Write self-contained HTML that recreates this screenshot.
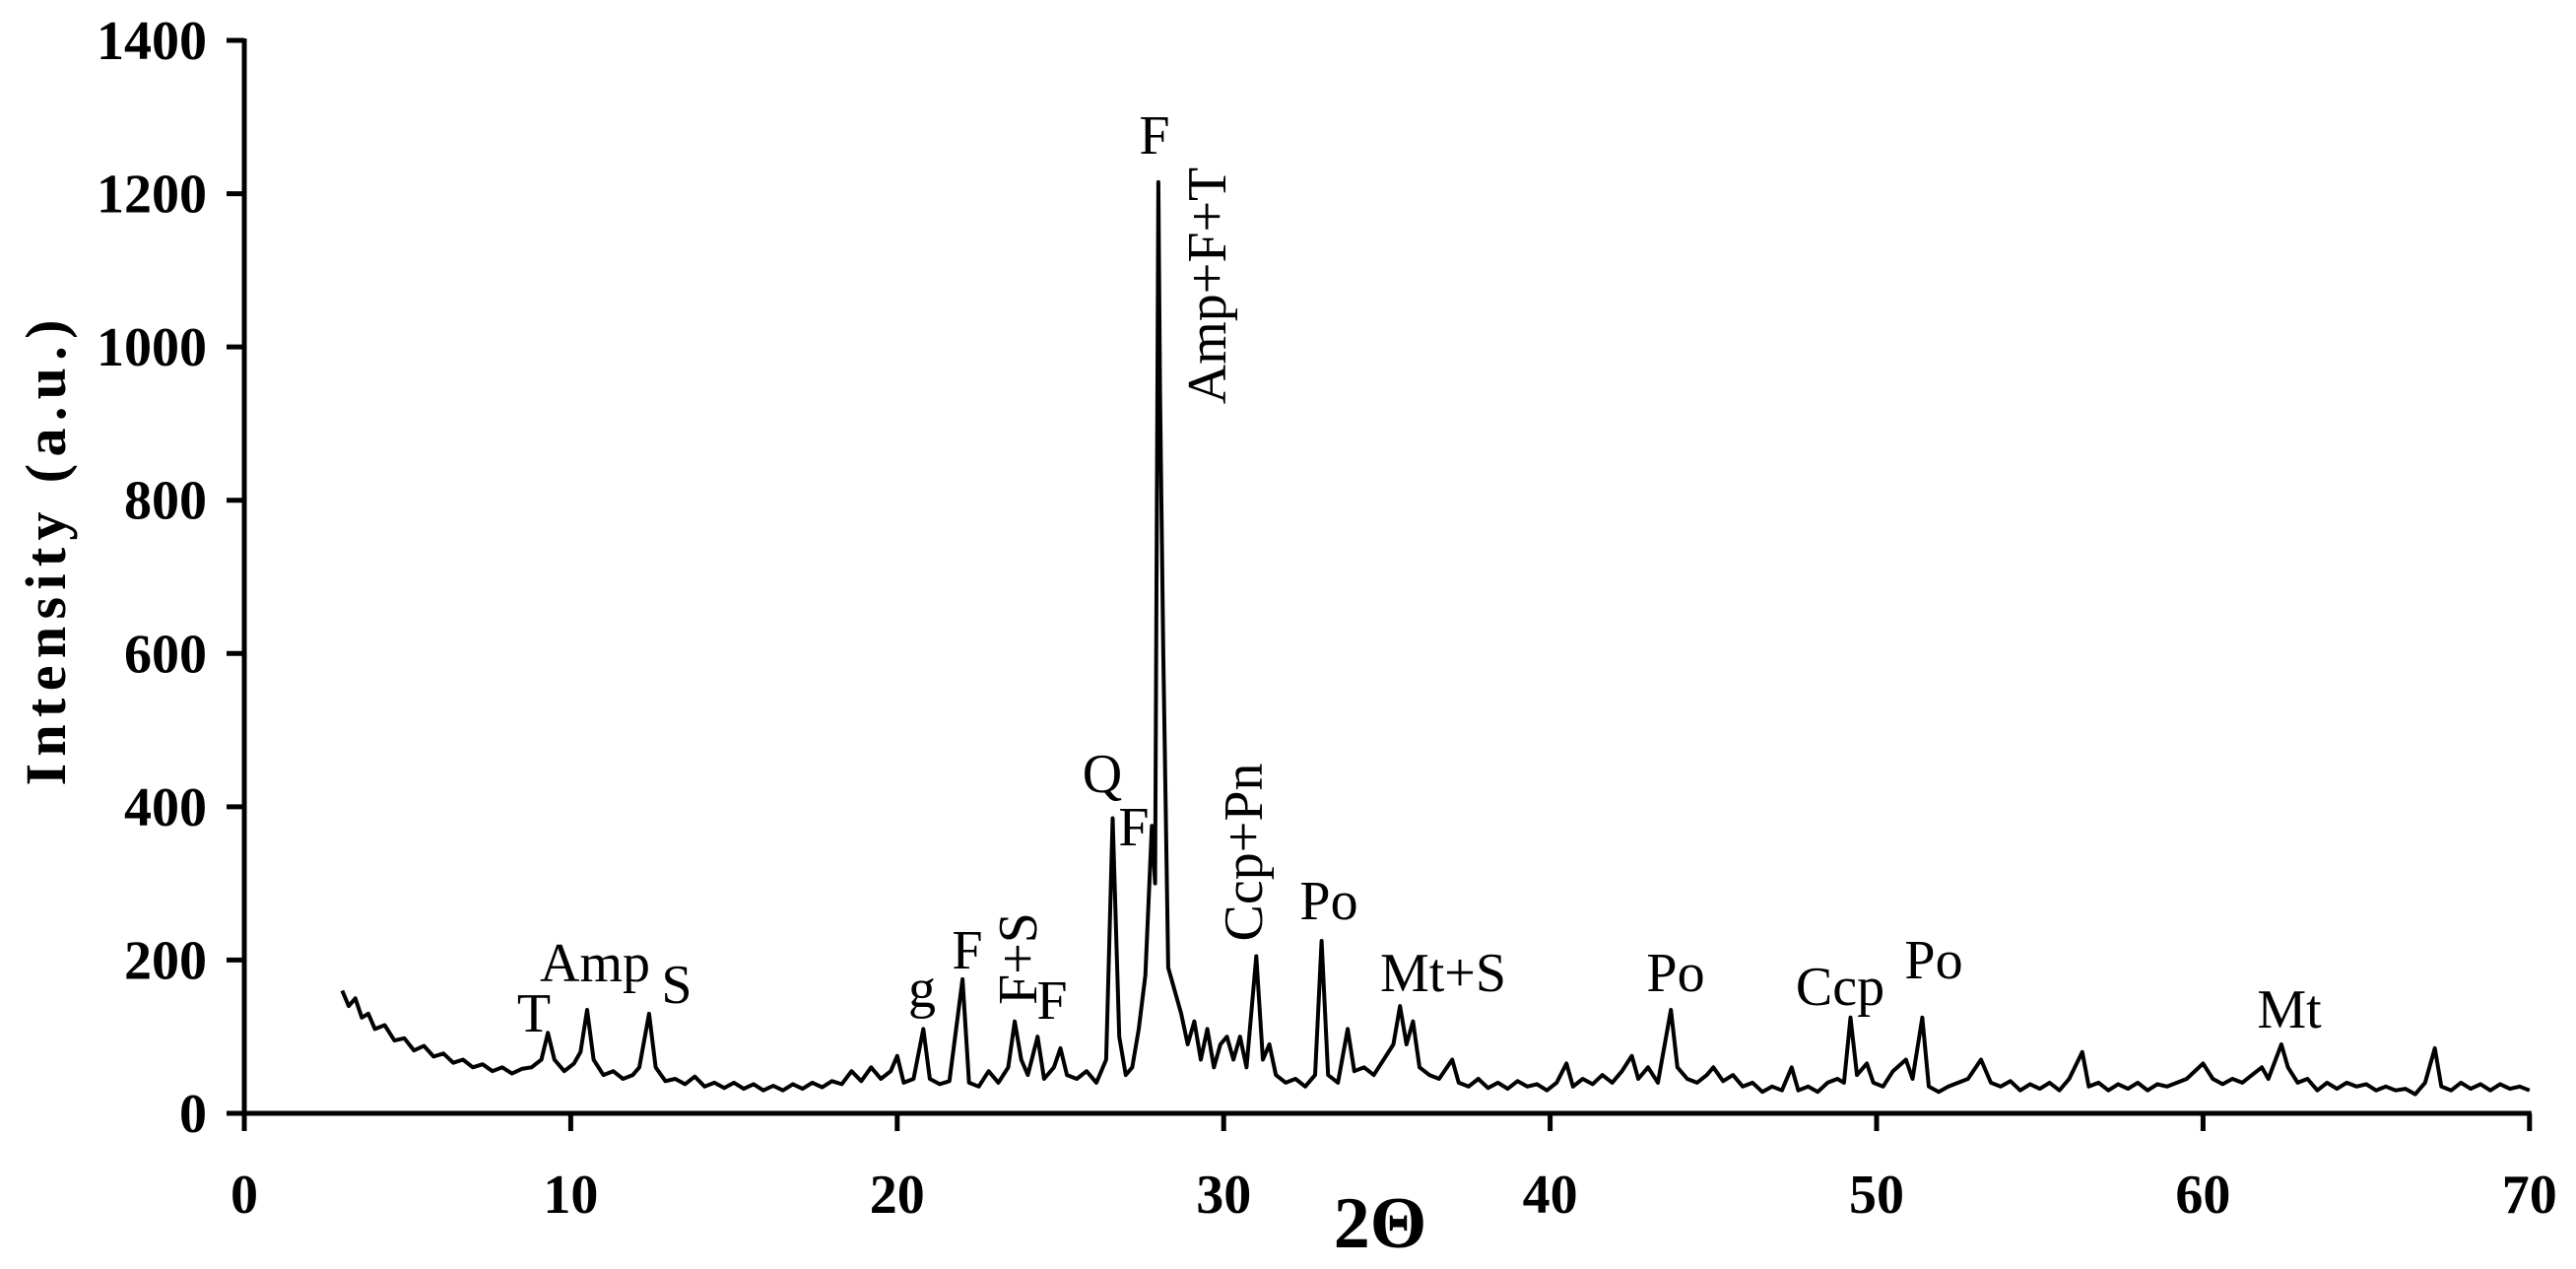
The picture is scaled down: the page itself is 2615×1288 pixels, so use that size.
<!DOCTYPE html>
<html>
<head>
<meta charset="utf-8">
<style>
html,body{margin:0;padding:0;background:#fff;}
svg{display:block;}
text{font-family:"Liberation Serif","DejaVu Serif",serif;fill:#000;}
.tick{font-weight:bold;font-size:56px;}
.ann{font-size:56px;}
</style>
</head>
<body>
<svg id="chart" width="2615" height="1288" viewBox="0 0 2615 1288" xmlns="http://www.w3.org/2000/svg">
  <g id="axes"></g>
  <path id="series" fill="none" stroke="#000" stroke-width="4" stroke-linejoin="round"/>
  <text transform="translate(66,561) rotate(-90)" text-anchor="middle" font-weight="bold" font-size="58" textLength="473" lengthAdjust="spacing">Intensity (a.u.)</text>
  <text x="1401" y="1266" text-anchor="middle" font-weight="bold" font-size="74">2Θ</text>
  <g id="annotations">
    <text class="ann" x="542" y="1047" text-anchor="middle">T</text>
    <text class="ann" x="604" y="996" text-anchor="middle">Amp</text>
    <text class="ann" x="687" y="1018" text-anchor="middle">S</text>
    <text class="ann" x="936" y="1022" text-anchor="middle">g</text>
    <text class="ann" x="982" y="983" text-anchor="middle">F</text>
    <text class="ann" transform="translate(1052,973) rotate(-90)" text-anchor="middle">F+S</text>
    <text class="ann" x="1068" y="1034" text-anchor="middle">F</text>
    <text class="ann" x="1119" y="804" text-anchor="middle">Q</text>
    <text class="ann" x="1151" y="858" text-anchor="middle">F</text>
    <text class="ann" x="1172" y="156" text-anchor="middle">F</text>
    <text class="ann" transform="translate(1244,290) rotate(-90)" text-anchor="middle">Amp+F+T</text>
    <text class="ann" transform="translate(1281,865) rotate(-90)" text-anchor="middle">Ccp+Pn</text>
    <text class="ann" x="1349" y="933" text-anchor="middle">Po</text>
    <text class="ann" x="1465" y="1006" text-anchor="middle">Mt+S</text>
    <text class="ann" x="1701" y="1006" text-anchor="middle">Po</text>
    <text class="ann" x="1868" y="1020" text-anchor="middle">Ccp</text>
    <text class="ann" x="1963" y="993" text-anchor="middle">Po</text>
    <text class="ann" x="2324" y="1043" text-anchor="middle">Mt</text>
  </g>
</svg>
<script>
const xTicks = [0,10,20,30,40,50,60,70];
const yTicks = [0,200,400,600,800,1000,1200,1400];
const twoTheta = [3.0,3.2,3.4,3.6,3.8,4.0,4.3,4.6,4.9,5.2,5.5,5.8,6.1,6.4,6.7,7.0,7.3,7.6,7.9,8.2,8.5,8.8,9.1,9.3,9.5,9.8,10.1,10.3,10.5,10.7,11.0,11.3,11.6,11.9,12.1,12.4,12.6,12.9,13.2,13.5,13.8,14.1,14.4,14.7,15.0,15.3,15.6,15.9,16.2,16.5,16.8,17.1,17.4,17.7,18.0,18.3,18.6,18.9,19.2,19.5,19.8,20.0,20.2,20.5,20.8,21.0,21.3,21.6,22.0,22.2,22.5,22.8,23.1,23.4,23.6,23.8,24.0,24.3,24.5,24.8,25.0,25.2,25.5,25.8,26.1,26.4,26.6,26.8,27.0,27.2,27.4,27.6,27.8,27.9,28.0,28.05,28.15,28.3,28.5,28.7,28.9,29.1,29.3,29.5,29.7,29.9,30.1,30.3,30.5,30.7,31.0,31.2,31.4,31.6,31.9,32.2,32.5,32.8,33.0,33.2,33.5,33.8,34.0,34.3,34.6,34.9,35.2,35.4,35.6,35.8,36.0,36.3,36.6,37.0,37.2,37.5,37.8,38.1,38.4,38.7,39.0,39.3,39.6,39.9,40.2,40.5,40.7,41.0,41.3,41.6,41.9,42.2,42.5,42.7,43.0,43.3,43.7,43.9,44.2,44.5,44.8,45.0,45.3,45.6,45.9,46.2,46.5,46.8,47.1,47.4,47.6,47.9,48.2,48.5,48.8,49.0,49.2,49.4,49.7,49.9,50.2,50.5,50.9,51.1,51.4,51.6,51.9,52.2,52.5,52.8,53.2,53.5,53.8,54.1,54.4,54.7,55.0,55.3,55.6,55.9,56.3,56.5,56.8,57.1,57.4,57.7,58.0,58.3,58.6,58.9,59.2,59.5,60.0,60.3,60.6,60.9,61.2,61.5,61.8,62.0,62.4,62.6,62.9,63.2,63.5,63.8,64.1,64.4,64.7,65.0,65.3,65.6,65.9,66.2,66.5,66.8,67.1,67.3,67.6,67.9,68.2,68.5,68.8,69.1,69.4,69.7,70.0];
const intensity = [160,140,150,125,130,110,115,95,98,82,88,74,78,66,70,60,64,55,60,52,58,60,70,105,70,55,65,80,135,70,50,55,45,50,60,130,60,42,45,38,48,35,40,33,40,32,38,30,36,30,38,32,40,34,42,38,55,42,60,45,55,75,40,45,110,45,38,42,175,40,35,55,40,60,120,70,50,100,45,60,85,50,45,55,40,70,385,100,50,60,110,180,375,300,1215,940,600,190,160,130,90,120,70,110,60,90,100,70,100,60,205,70,90,50,40,45,35,50,225,50,40,110,55,60,50,70,90,140,90,120,60,50,45,70,40,35,45,33,40,32,42,35,38,30,40,65,35,45,38,50,40,55,75,45,60,40,135,60,45,40,50,60,42,50,35,40,28,35,30,60,30,35,28,40,45,40,125,50,65,40,35,55,70,45,125,35,28,35,40,45,70,40,35,42,30,38,32,40,30,45,80,35,40,30,38,32,40,30,38,35,40,45,65,45,38,45,40,50,60,45,90,60,40,45,30,40,32,40,35,38,30,35,30,32,25,40,85,35,30,40,32,38,30,38,32,35,30];

const X0 = 248, XPER = 33.14, Y0 = 1130, YPER = 1089/1400;
function xScale(v){ return X0 + v*XPER; }
function yScale(v){ return Y0 - v*YPER; }

const NS = "http://www.w3.org/2000/svg";
const axes = document.getElementById('axes');
function line(x1,y1,x2,y2,w){
  const l = document.createElementNS(NS,'line');
  l.setAttribute('x1',x1); l.setAttribute('y1',y1);
  l.setAttribute('x2',x2); l.setAttribute('y2',y2);
  l.setAttribute('stroke','#000'); l.setAttribute('stroke-width',w);
  axes.appendChild(l);
  return l;
}
const yAxis = line(X0, yScale(1400)-2, X0, Y0+2, 5);


const xAxis = line(X0-2, Y0, xScale(70)+2, Y0, 5);



yTicks.forEach(v => {
  const y = yScale(v);
  const t = line(X0-18, y, X0, y, 5);
  
  
  const tx = document.createElementNS(NS,'text');
  tx.setAttribute('class','tick');
  tx.setAttribute('x', 210);
  tx.setAttribute('y', y+19);
  tx.setAttribute('text-anchor','end');
  tx.textContent = v;
  
  
  axes.appendChild(tx);
});
xTicks.forEach(v => {
  const x = xScale(v);
  const t = line(x, Y0, x, Y0+18, 5);
  
  
  const tx = document.createElementNS(NS,'text');
  tx.setAttribute('class','tick');
  tx.setAttribute('x', x);
  tx.setAttribute('y', 1231);
  tx.setAttribute('text-anchor','middle');
  tx.textContent = v;
  
  
  axes.appendChild(tx);
});

let d = '';
twoTheta.forEach((t,i) => {
  d += (i ? 'L' : 'M') + xScale(t).toFixed(1) + ',' + yScale(intensity[i]).toFixed(1);
});
document.getElementById('series').setAttribute('d', d);
</script>
</body>
</html>
